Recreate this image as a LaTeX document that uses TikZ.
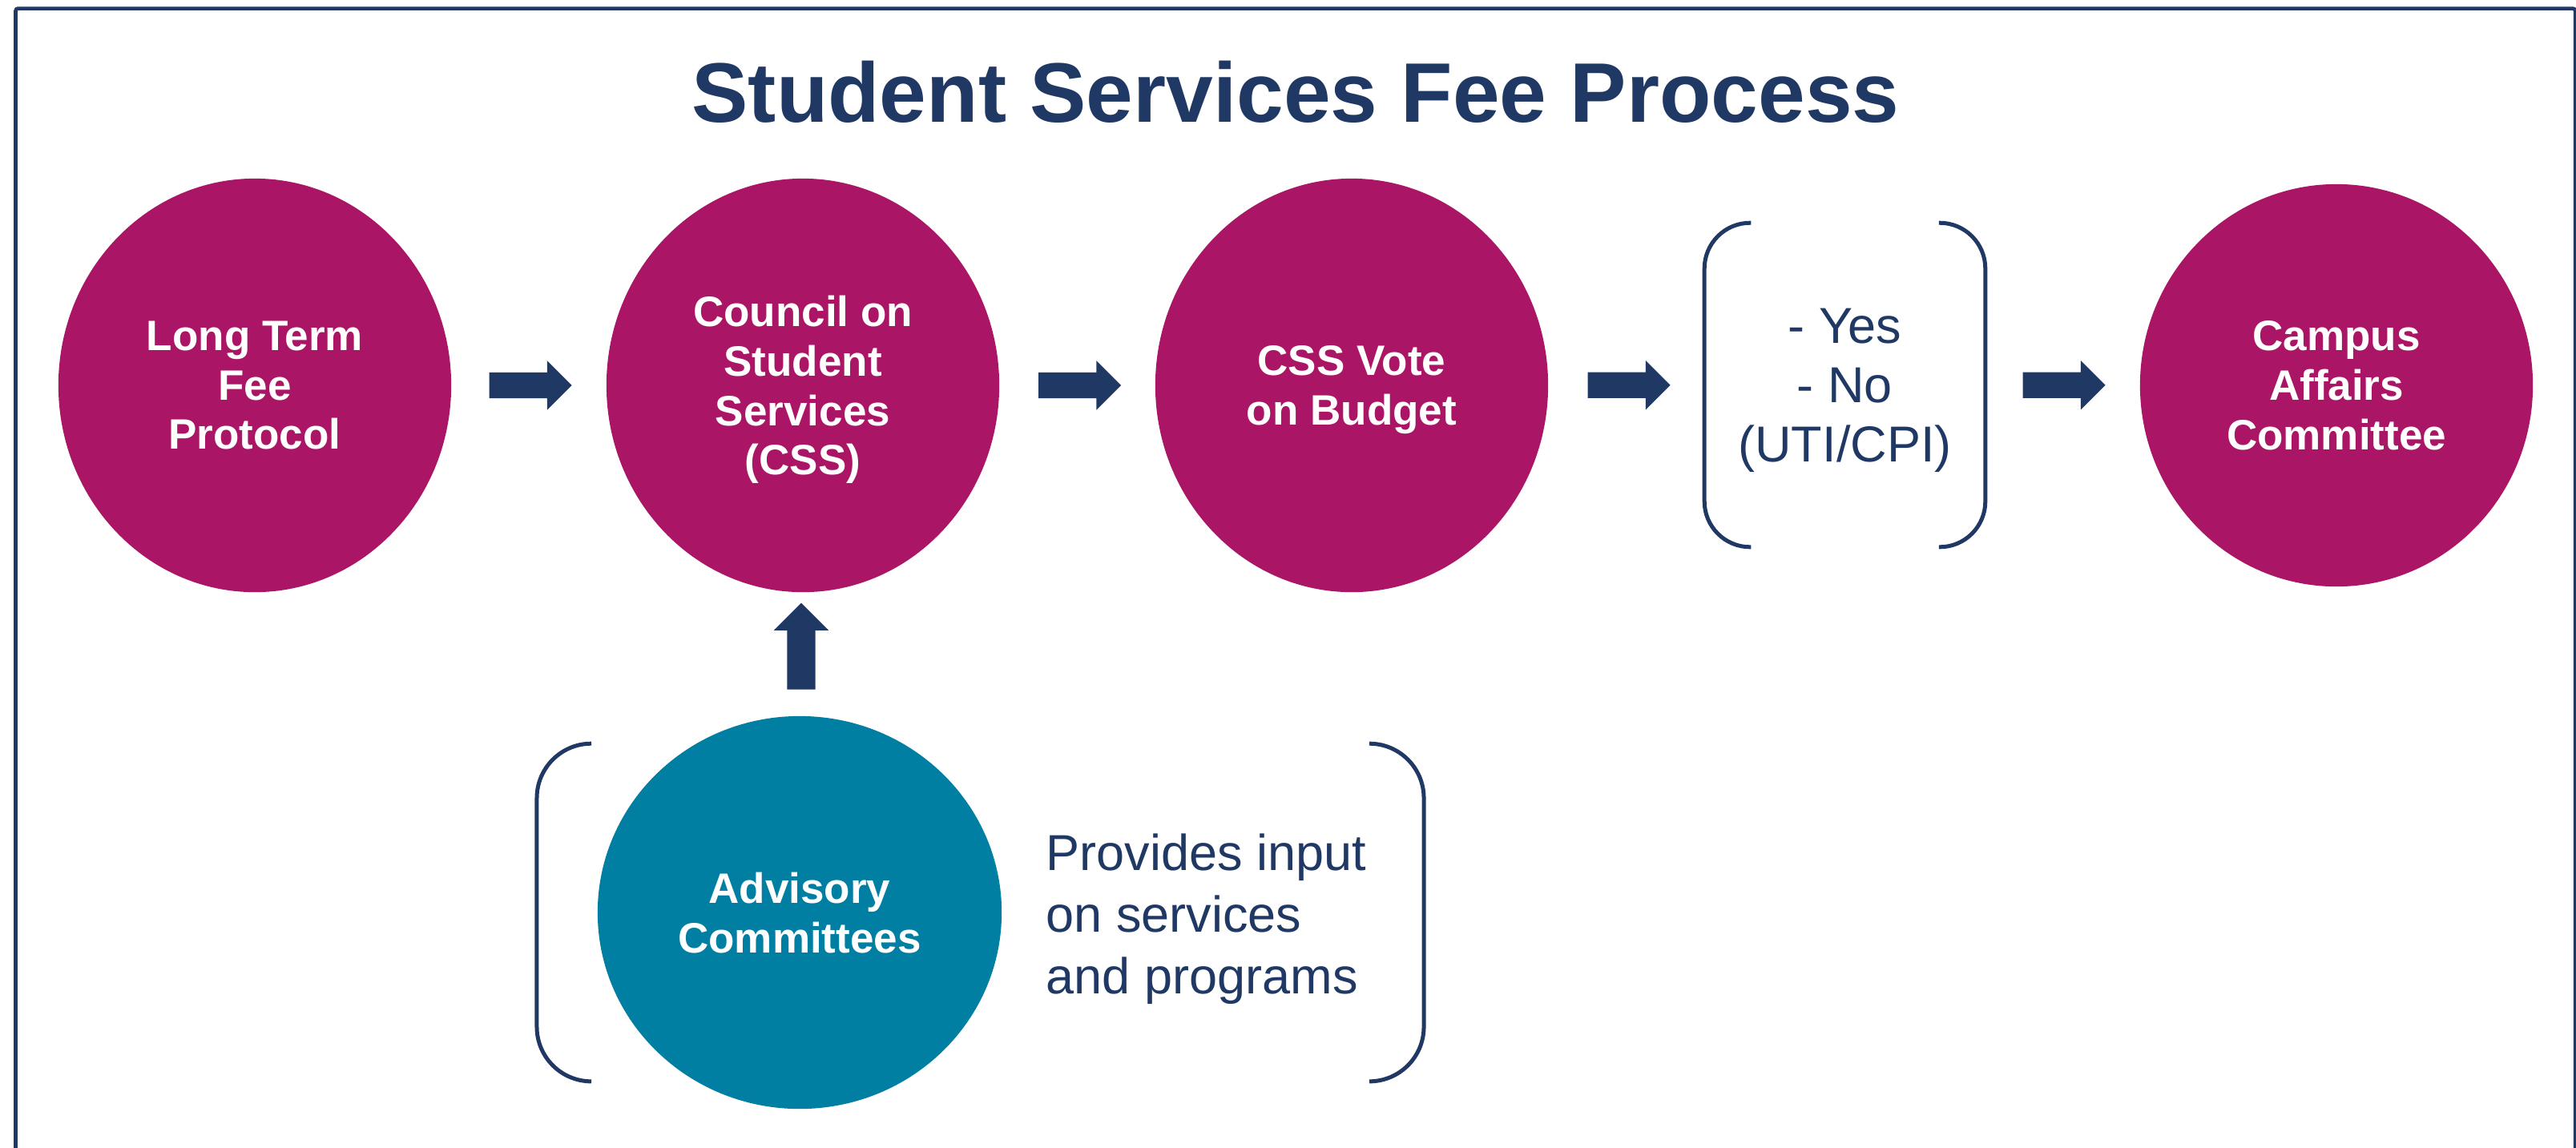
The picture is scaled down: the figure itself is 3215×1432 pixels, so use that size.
\documentclass[tikz,border=0pt]{standalone}
\usepackage{fontspec}
\setmainfont{Liberation Sans}
\usetikzlibrary{shapes.geometric,shapes.arrows,calc}
\definecolor{navy}{RGB}{31,56,100}
\definecolor{magentafill}{RGB}{171,21,102}
\definecolor{tealfill}{RGB}{0,127,163}
\begin{document}
\begin{tikzpicture}[x=0.01cm,y=-0.01cm,
  stepcircle/.style={ellipse, fill=magentafill, draw=none, inner sep=0pt,
    minimum width=4.9cm, minimum height=5.16cm, text=white,
    font=\bfseries\fontsize{15.08pt}{17.53pt}\selectfont, align=center, text depth=0pt},
  blockarrow/.style={single arrow, fill=navy, draw=none, inner xsep=0pt, inner ysep=0.155cm,
    minimum width=0.60cm, minimum height=1.03cm, single arrow head extend=0.145cm,
    single arrow tip angle=90, single arrow head indent=0pt},
  bracketline/.style={draw=navy, line width=0.05cm},
  bodytext/.style={text=navy, inner sep=0pt, text depth=0pt},
  ghost/.style={draw=none, inner sep=0pt}]
\useasboundingbox (0,0) rectangle (3215,1432);
\clip (0,0) rectangle (3215,1432);
\fill[white] (0,0) rectangle (3215,1432);
% frame
\draw[navy, line width=0.045cm, rounded corners=0.03cm] (19.5,1500) -- (19.5,10.5) -- (3214,10.5) -- (3214,1500);
% title
\node[text=navy, font=\bfseries\fontsize{30pt}{36pt}\selectfont, anchor=base, inner sep=0pt] (title) at (1617,152) {Student Services Fee Process};
% circles
\node[stepcircle] (ltfp) at (318,481) {Long Term\\Fee\\Protocol};
\node[stepcircle] (css) at (1002,481) {Council on\\Student\\Services\\(CSS)};
\node[stepcircle] (vote) at (1687,481) {CSS Vote\\on Budget};
\node[stepcircle, minimum height=5.02cm] (caf) at (2916,481) {Campus\\Affairs\\Committee};
\node[stepcircle, fill=tealfill, minimum width=5.04cm, minimum height=4.9cm] (adv) at (998,1139) {Advisory\\Committees};
% yes/no
\node[bodytext, align=center, font=\fontsize{17.93pt}{21.05pt}\selectfont,
  minimum width=3.49cm, minimum height=4.03cm] (yn) at (2302.5,480.5) {- Yes\\- No\\(UTI/CPI)};
\draw[bracketline, rounded corners=0.57cm] ([xshift=0.58cm]yn.north west) -- (yn.north west) -- (yn.south west) -- ([xshift=0.58cm]yn.south west);
\draw[bracketline, rounded corners=0.57cm] ([xshift=-0.58cm]yn.north east) -- (yn.north east) -- (yn.south east) -- ([xshift=-0.58cm]yn.south east);
% advisory group
\node[ghost, minimum width=11.05cm, minimum height=4.2cm] (grp) at (1223.5,1139) {};
\node[bodytext, align=left, anchor=west, font=\fontsize{17.93pt}{21.9pt}\selectfont] (input) at (1305,1141) {Provides input\\on services\\and programs};
\draw[bracketline, rounded corners=0.68cm] ([xshift=0.68cm]grp.north west) -- (grp.north west) -- (grp.south west) -- ([xshift=0.68cm]grp.south west);
\draw[bracketline, rounded corners=0.68cm] ([xshift=-0.68cm]grp.north east) -- (grp.north east) -- (grp.south east) -- ([xshift=-0.68cm]grp.south east);
% arrows
\node[blockarrow] (a1) at ($(ltfp.east)!0.5!(css.west)+(-6,0)$) {};
\node[blockarrow] (a2) at ($(css.east)!0.5!(vote.west)+(-5,0)$) {};
\node[blockarrow] (a3) at ($(vote.east)!0.5!(yn.west)+(-5,0)$) {};
\node[blockarrow] (a4) at ($(yn.east)!0.5!(caf.west)+(-6,0)$) {};
\node[blockarrow, rotate=90, minimum height=1.08cm, minimum width=0.67cm, inner ysep=0.17cm, single arrow head extend=0.165cm] (a5) at ($(adv.north)!0.5!(css.south)+(0,-1)$) {};
\end{tikzpicture}
\end{document}
